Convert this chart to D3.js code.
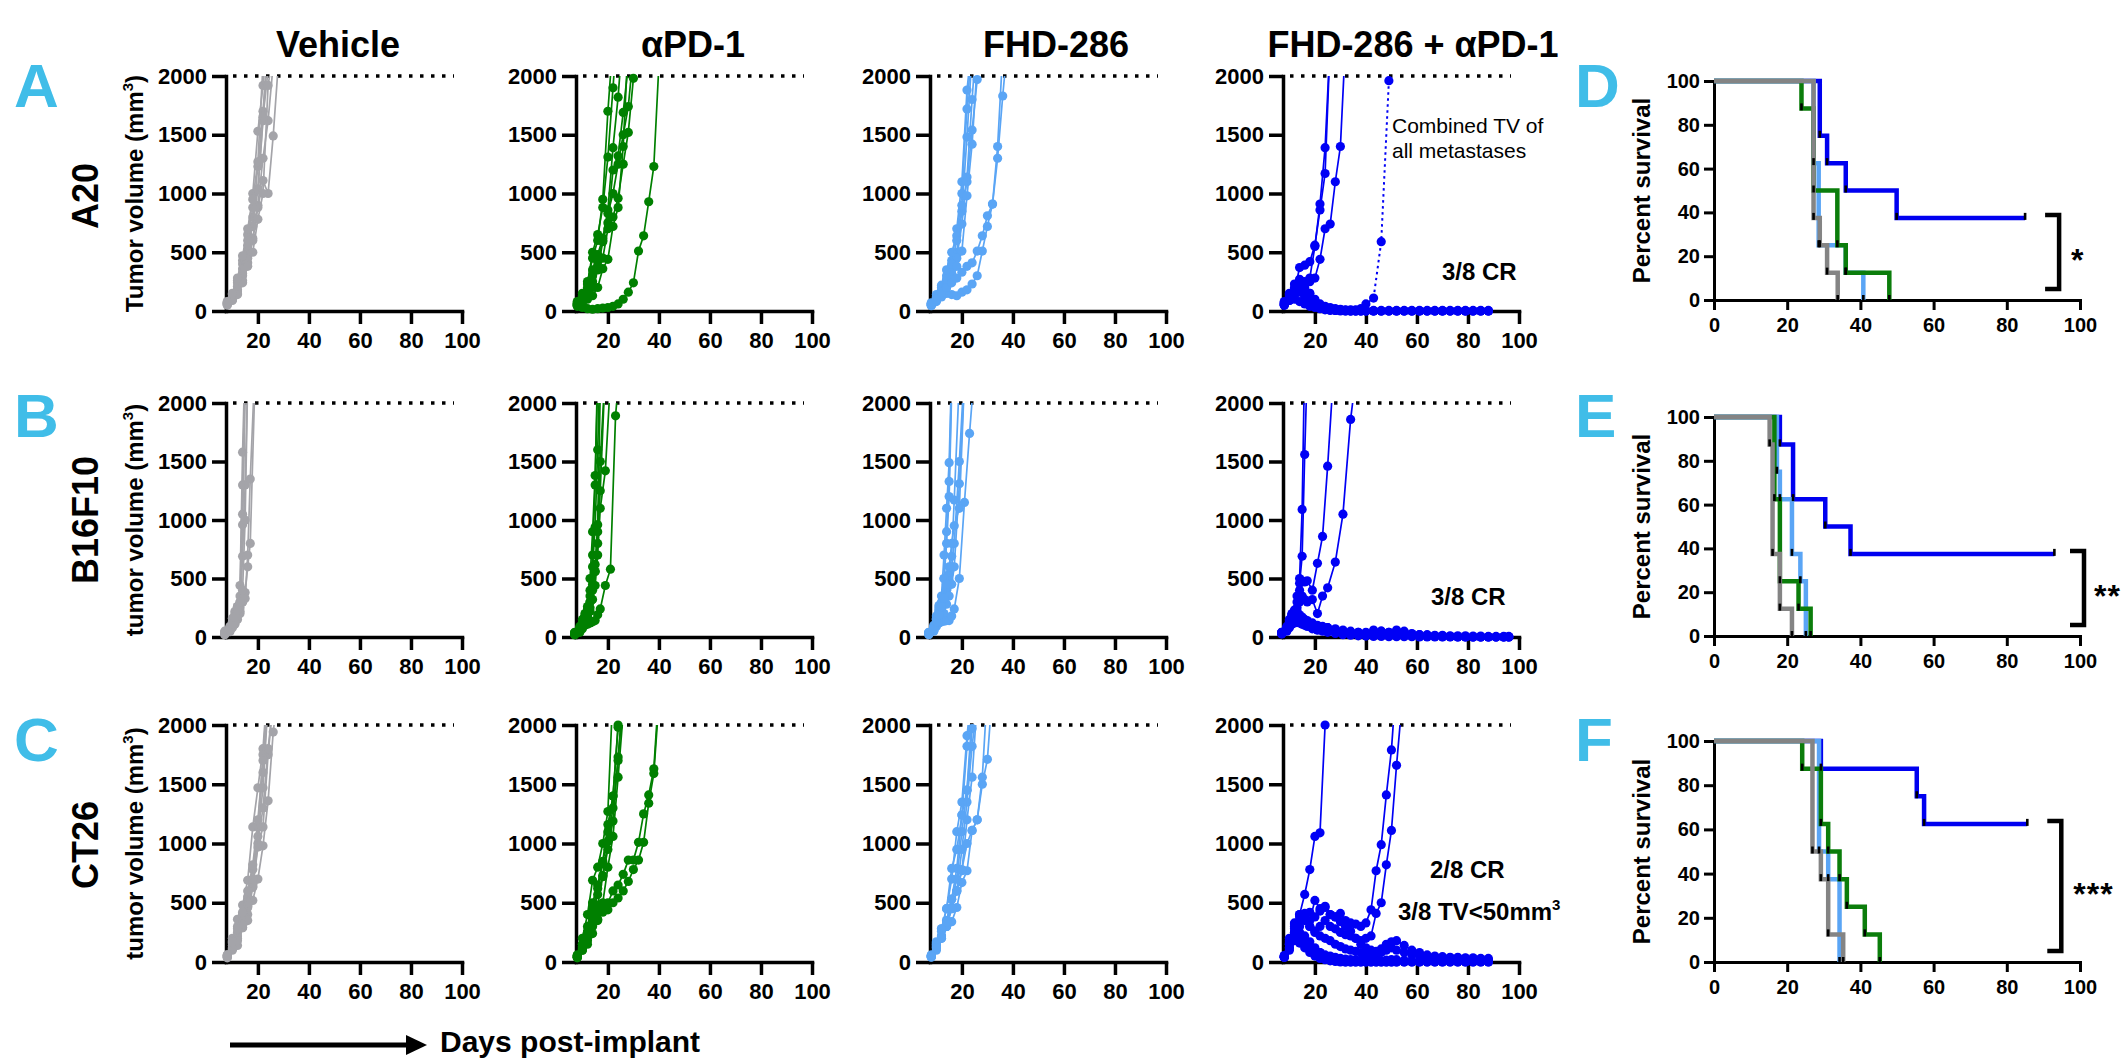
<!DOCTYPE html>
<html>
<head>
<meta charset="utf-8">
<script src="https://cdn.jsdelivr.net/npm/d3@7"></script>
<style>
  body { margin: 0; background: #fff; }
  svg text { font-family: "Liberation Sans", Arial, Helvetica, sans-serif; }
</style>
</head>
<body>
<div id="fig"></div>
<script>
// ---- labels ----
const groupTitles = ['Vehicle', 'αPD-1', 'FHD-286', 'FHD-286 + αPD-1']
const modelNames = ['A20', 'B16F10', 'CT26']
const growthYLabels = ['Tumor volume', 'tumor volume', 'tumor volume']
const growthXTicks = [20, 40, 60, 80, 100]
const growthYTicks = [0, 500, 1000, 1500, 2000]
const survTicks = [0, 20, 40, 60, 80, 100]
const survStars = ['*', '**', '***']

// ---- A20 tumor volumes (mm3), one array per mouse, aligned to daysA ----
const daysA = [8, 10, 12, 14, 16, 18, 20, 22, 24, 26, 28, 30, 32, 34, 36, 38, 40, 43, 46, 49, 52, 55, 58, 61, 64, 67, 70, 73, 76, 79, 82, 85, 88]
const a20Vehicle = [
  [60, 100, 180, 320, 520, 800, 1230, 1700, 2300],
  [70, 120, 240, 430, 650, 1000, 1530, 1920, 2400],
  [50, 90, 150, 260, 410, 600, 900, 1300, 1620, 2100],
  [80, 140, 260, 400, 560, 720, 1030, 1620, 2300],
  [60, 100, 170, 300, 450, 620, 880, 1110, 1000, 1490, 2100],
  [55, 110, 210, 360, 600, 880, 1040, 1650, 2050],
  [65, 95, 140, 240, 380, 500, 780, 1000, 1920, 2200],
  [75, 150, 280, 470, 700, 950, 1270, 2100]
]
const a20Apd1 = [
  [70, 150, 250, 450, 600, 950, 1700, 2300],
  [60, 120, 230, 500, 650, 880, 1310, 1900, 2500],
  [50, 100, 180, 350, 480, 620, 860, 1390, 1820, 2400],
  [80, 130, 200, 300, 420, 600, 750, 1200, 1320, 1690, 2100],
  [60, 90, 150, 250, 380, 450, 700, 800, 960, 1250, 1520, 1980, 2300],
  [40, 60, 140, 200, 350, 590, 830, 1000, 1250, 1500, 1740, 2200],
  [50, 30, 20, 15, 20, 25, 30, 40, 60, 100, 160, 240, 510, 640, 930, 1230, 2100],
  [60, 80, 100, 130, 200, 360, 440, 720, 880, 1400, 2300]
]
const a20Fhd = [
  [60, 110, 200, 300, 430, 700, 1100, 1880, 2300],
  [50, 100, 180, 260, 380, 500, 850, 1480, 2200],
  [70, 140, 220, 350, 500, 640, 1000, 1720, 2300],
  [55, 90, 150, 220, 320, 450, 740, 1140, 1800, 2400],
  [65, 120, 170, 270, 400, 600, 900, 1100, 1540, 1970, 2300],
  [45, 80, 130, 200, 260, 380, 510, 980, 1420, 2100],
  [50, 90, 120, 150, 140, 130, 160, 180, 230, 300, 510, 720, 910, 1400, 2200],
  [60, 100, 160, 200, 240, 280, 330, 380, 410, 510, 640, 810, 910, 1300, 1830, 2300]
]
const a20Combo = [
  [60, 110, 170, 370, 390, 420, 560, 860, 1170, 2300],
  [80, 130, 200, 270, 250, 280, 550, 910, 1390, 2300],
  [50, 90, 150, 220, 180, 250, 280, 440, 700, 740, 1100, 1400, 2300],
  [70, 150, 230, 260, 200, 150, 100, 60, 40, 30, 20, 15, 10, 10, 10, 20, 60, 110],
  [60, 140, 180, 160, 120, 80, 50, 30, 20, 10, 5, 5, 0, 0, 0, 0, 0, 0, 0, 0, 0, 0, 0, 0, 0, 0, 0, 0, 0, 0, 0, 0, 0],
  [50, 100, 150, 200, 240, 150, 90, 50, 30, 20, 10, 5, 5, 0, 0, 0, 0, 0, 0, 0, 0, 0, 0, 0, 0, 0, 0, 0, 0, 0, 0, 0, 0],
  [70, 120, 100, 80, 60, 40, 30, 20, 10, 5, 5, 0, 0, 0, 0, 0, 0, 0, 0, 0, 0, 0, 0, 0, 0, 0, 0, 0, 0, 0, 0, 0, 0],
  [55, 90, 130, 170, 140, 100, 70, 40, 25, 15, 10, 10, 5, 5, 5, 5, 5, 5, 5, 5, 5, 5, 5, 5, 5, 5, 5, 5, 5, 5, 5, 5, 5]
]
// combined TV of all metastases (dotted)
const a20Metastases = [[43, 110], [46, 590], [49, 1960]]

// ---- B16F10 ----
const daysB = [7, 9, 10, 11, 12, 13, 14, 15, 16, 17, 19, 21, 23, 25, 28, 31, 34, 37, 40, 43, 46, 49, 52, 55, 58, 61, 64, 67, 70, 73, 76, 79, 82, 85, 88, 91, 94, 96]
const b16Vehicle = [
  [30, 60, 100, 160, 250, 440, 1580, 2400],
  [40, 80, 130, 200, 260, 350, 1300, 2300],
  [20, 50, 90, 130, 200, 300, 1050, 2200],
  [35, 70, 120, 180, 220, 250, 960, 2100],
  [25, 45, 80, 110, 150, 200, 690, 1300, 2200],
  [30, 55, 100, 140, 180, 220, 300, 380, 600, 800, 2300],
  [50, 90, 160, 220, 260, 280, 300, 330, 700, 1350, 2400],
  [30, 60, 110, 170, 230, 300, 400, 1000, 2200]
]
const b16Apd1 = [
  [30, 90, 150, 200, 260, 500, 900, 1380, 2300],
  [40, 70, 120, 180, 240, 400, 700, 1300, 2200],
  [25, 60, 100, 150, 200, 350, 600, 940, 1600, 2400],
  [35, 80, 110, 160, 180, 300, 450, 620, 960, 2100],
  [20, 50, 90, 130, 150, 250, 400, 560, 900, 1500, 2300],
  [30, 60, 100, 140, 170, 220, 320, 440, 700, 1100, 1420, 2200],
  [20, 40, 70, 100, 110, 120, 130, 140, 190, 240, 440, 580, 1890, 2400],
  [30, 70, 120, 170, 220, 300, 420, 560, 800, 1250, 2300]
]
const b16Fhd = [
  [30, 80, 180, 270, 350, 700, 1100, 1490, 2300],
  [40, 100, 160, 250, 270, 500, 900, 1330, 2200],
  [25, 60, 120, 200, 230, 300, 420, 540, 690, 1170, 2200],
  [35, 70, 150, 220, 250, 300, 400, 480, 600, 800, 1500, 2300],
  [20, 50, 90, 130, 160, 200, 280, 350, 450, 600, 1310, 2200],
  [30, 60, 100, 120, 130, 135, 140, 140, 180, 240, 500, 1150, 1740, 2300],
  [35, 90, 150, 230, 300, 500, 800, 1200, 2100],
  [28, 75, 130, 190, 260, 330, 450, 600, 800, 950, 1100, 2200]
]
const b16Combo = [
  [40, 90, 150, 200, 230, 350, 500, 1090, 2400],
  [30, 80, 130, 190, 220, 300, 460, 690, 1560, 2300],
  [35, 70, 140, 190, 200, 250, 400, 480, 470, 480, 400, 630, 860, 1460, 2500],
  [30, 60, 110, 150, 180, 220, 300, 350, 320, 300, 320, 200, 350, 420, 640, 1050, 1860, 2400],
  [40, 80, 120, 160, 180, 200, 190, 170, 150, 140, 120, 100, 90, 80, 70, 60, 50, 40, 40, 35, 30, 25, 20, 15, 10, 8, 5, 5, 3, 2, 0, 0, 0, 0, 0, 0, 0, 0],
  [30, 60, 90, 120, 150, 140, 130, 120, 110, 100, 80, 70, 60, 50, 40, 30, 25, 20, 30, 40, 50, 40, 60, 50, 30, 20, 15, 10, 8, 5, 3, 2, 0, 0, 0, 0, 0, 0],
  [35, 70, 100, 130, 140, 150, 160, 150, 130, 110, 90, 60, 50, 40, 30, 20, 15, 10, 8, 5, 5, 3, 3, 2, 2, 0, 0, 0, 0, 0, 0, 0, 0, 0, 0, 0, 0, 0],
  [25, 50, 80, 110, 120, 130, 120, 110, 100, 90, 70, 60, 70, 80, 60, 50, 40, 40, 30, 60, 50, 40, 30, 30, 25, 20, 20, 15, 15, 10, 10, 10, 8, 8, 5, 5, 5, 5]
]

// ---- CT26 ----
const daysC = [8, 10, 12, 14, 16, 18, 20, 22, 24, 26, 28, 30, 32, 34, 36, 38, 40, 42, 44, 46, 48, 50, 52, 55, 58, 61, 64, 67, 70, 73, 76, 79, 82, 85, 88]
const ct26Vehicle = [
  [50, 160, 360, 480, 690, 1140, 1470, 1800, 2400],
  [60, 200, 250, 400, 550, 780, 1140, 1750, 2300],
  [40, 140, 220, 350, 470, 680, 1060, 1470, 2200],
  [55, 120, 200, 290, 400, 630, 970, 1140, 1750, 2200],
  [45, 100, 140, 290, 350, 520, 700, 980, 1360, 1940, 2300],
  [50, 180, 300, 400, 460, 640, 1000, 1300, 1800, 2200],
  [35, 110, 180, 310, 500, 700, 1150, 1600, 2200],
  [60, 170, 280, 420, 600, 820, 1200, 1700, 2300]
]
const ct26Apd1 = [
  [50, 200, 400, 690, 800, 1000, 1270, 2300],
  [60, 150, 300, 500, 650, 850, 1160, 1400, 1980, 2300],
  [40, 120, 240, 400, 570, 730, 950, 1190, 1730, 2200],
  [55, 100, 200, 350, 420, 500, 800, 1060, 1560, 2100],
  [45, 150, 240, 330, 360, 440, 500, 600, 650, 740, 860, 860, 1010, 1250, 1410, 1630, 2300],
  [35, 100, 150, 240, 350, 420, 440, 500, 540, 600, 680, 780, 860, 1010, 1340, 1590, 2200],
  [50, 130, 250, 450, 620, 830, 1100, 1400, 2000, 2400],
  [40, 110, 180, 300, 480, 720, 1020, 1300, 1700, 2300]
]
const ct26Fhd = [
  [50, 120, 220, 350, 530, 790, 1240, 1450, 1970, 2400],
  [45, 150, 280, 450, 700, 1100, 1350, 1910, 2300],
  [55, 140, 220, 300, 450, 600, 950, 1350, 1820, 2200],
  [40, 100, 200, 300, 340, 460, 670, 770, 1110, 1200, 1500, 1710, 2300],
  [50, 130, 220, 350, 530, 700, 1100, 1450, 2100],
  [45, 170, 260, 300, 460, 600, 770, 1200, 1560, 2200],
  [60, 160, 280, 450, 790, 950, 1240, 1820, 2300],
  [50, 120, 200, 340, 450, 600, 780, 1000, 1110, 1200, 1560, 2300]
]
const ct26Combo = [
  [40, 150, 300, 400, 570, 780, 1060, 1090, 2000],
  [50, 180, 330, 400, 380, 350, 520, 450, 470, 400, 380, 410, 350, 330, 320, 300, 330, 440, 770, 990, 1410, 1790, 2400],
  [45, 160, 280, 350, 410, 300, 260, 300, 350, 300, 280, 250, 230, 220, 200, 180, 200, 220, 410, 500, 820, 1110, 1660, 2400],
  [55, 200, 320, 380, 400, 420, 380, 430, 460, 400, 380, 340, 300, 260, 200, 150, 120, 100, 90, 110, 150, 170, 180, 140, 100, 80, 60, 50, 45, 40, 40, 35, 35, 30, 30],
  [40, 120, 250, 300, 350, 300, 250, 220, 200, 180, 150, 130, 110, 100, 90, 80, 70, 60, 60, 80, 100, 120, 100, 80, 60, 50, 45, 40, 40, 35, 30, 30, 25, 25, 20],
  [50, 150, 250, 200, 150, 120, 100, 80, 60, 50, 40, 30, 25, 20, 20, 15, 15, 10, 10, 10, 15, 20, 20, 15, 10, 10, 8, 8, 5, 5, 5, 5, 5, 5, 5],
  [45, 100, 180, 160, 120, 80, 50, 30, 20, 10, 5, 0, 0, 0, 0, 0, 0, 0, 0, 0, 0, 0, 0, 0, 0, 0, 0, 0, 0, 0, 0, 0, 0, 0, 0],
  [40, 120, 200, 250, 220, 170, 120, 80, 40, 20, 10, 5, 0, 0, 0, 0, 0, 0, 0, 0, 0, 0, 0, 0, 0, 0, 0, 0, 0, 0, 0, 0, 0, 0, 0]
]

// ---- survival (day, percent) ----
const survA20Vehicle = [[0, 100], [27.2, 37.5], [28.9, 25], [30.9, 12.5], [33.8, 0]]
const survA20Apd1 = [[0, 100], [23.9, 87.5], [27.2, 50], [33.7, 25], [36, 12.5], [47.9, 0]]
const survA20Fhd = [[0, 100], [27.2, 62.5], [28.6, 25], [36, 12.5], [40.8, 0]]
const survA20Combo = [[0, 100], [28.9, 75], [30.9, 62.5], [36, 50], [49.9, 37.5], [85, 37.5]]

const survB16Vehicle = [[0, 100], [15.2, 87.5], [16, 37.5], [18, 12.5], [21.3, 0]]
const survB16Apd1 = [[0, 100], [16.5, 62.5], [18, 25], [23.1, 12.5], [26.4, 0]]
const survB16Fhd = [[0, 100], [17.2, 75], [18, 62.5], [21.3, 37.5], [23.6, 25], [25.1, 0]]
const survB16Combo = [[0, 100], [18, 87.5], [21.6, 62.5], [30.4, 50], [37.3, 37.5], [93, 37.5]]

const survCt26Vehicle = [[0, 100], [26.9, 50], [29.2, 37.5], [31.2, 12.5], [35.3, 0]]
const survCt26Apd1 = [[0, 100], [24.1, 87.5], [29.2, 62.5], [31.2, 50], [34.3, 37.5], [36.3, 25], [41.2, 12.5], [45.3, 0]]
const survCt26Fhd = [[0, 100], [28.7, 50], [31.2, 37.5], [34.3, 0]]
const survCt26Combo = [[0, 100], [29.2, 87.5], [55.4, 75], [57.4, 62.5], [85.6, 62.5]]

// ---- layout ----
const W = 2123, H = 1058
const FONT = '"Liberation Sans", Arial, Helvetica, sans-serif'
const colLeft = [226, 576, 930, 1283]
const panelWidth = 236
const rowTop = [76, 403, 725]
const rowBottom = [311, 637, 962]
const titleX = [338, 693, 1056, 1413]
const survLeft = 1714, survRight = 2080
const survTop = [81, 417, 741]
const survBottom = [300, 636, 962]
const growthColors = ['#a4a4a9', '#008000', '#5aa5f5', '#0000f5']
const survColors = { vehicle: '#848484', apd1: '#0b7d0b', fhd: '#5aa5f5', combo: '#0000f0' }
const letterColor = '#40bde8'

const svg = d3.select('#fig').append('svg')
  .attr('width', W).attr('height', H)
  .style('background', '#fff')

const AppendG = (parent, className = '') => parent.append('g').attr('class', className)

function styleAxis(g, size, width) {
  g.attr('font-family', FONT).attr('font-size', size).attr('font-weight', 'bold')
  g.selectAll('path, line').attr('stroke', '#000').attr('stroke-width', width)
  g.select('path.domain').attr('stroke-linecap', 'square')
  g.selectAll('text').attr('fill', '#000')
}

function drawGrowth(row, col, days, mice, color) {
  const left = colLeft[col], top = rowTop[row], bottom = rowBottom[row]
  const x = d3.scaleLinear().domain([7.5, 100]).range([left, left + panelWidth])
  const y = d3.scaleLinear().domain([0, 2000]).range([bottom, top])
  const g = AppendG(svg, 'growth')

  const xg = g.append('g').attr('transform', `translate(0,${bottom})`)
    .call(d3.axisBottom(x).tickValues(growthXTicks).tickFormat(d3.format('d'))
      .tickSize(13).tickSizeOuter(0).tickPadding(8))
  styleAxis(xg, 22, 3.5)
  const yg = g.append('g').attr('transform', `translate(${left},0)`)
    .call(d3.axisLeft(y).tickValues(growthYTicks).tickFormat(d3.format('d'))
      .tickSize(14).tickSizeOuter(0).tickPadding(5))
  styleAxis(yg, 22, 3.5)

  // 2000 mm3 endpoint
  g.append('line')
    .attr('x1', left + 7).attr('x2', left + 228)
    .attr('y1', y(2000)).attr('y2', y(2000))
    .attr('stroke', '#000').attr('stroke-width', 3.5)
    .attr('stroke-dasharray', '3.5 7.5')

  const clipId = `clip-${row}-${col}`
  svg.append('clipPath').attr('id', clipId).append('rect')
    .attr('x', left - 20).attr('y', y(2000))
    .attr('width', panelWidth + 40).attr('height', bottom - y(2000) + 30)

  const line = d3.line().x(d => x(d[0])).y(d => y(d[1]))
  mice.forEach(vols => {
    const pts = vols.map((v, i) => [days[i], v])
    g.append('path').datum(pts)
      .attr('d', line).attr('fill', 'none')
      .attr('stroke', color).attr('stroke-width', 1.7)
      .attr('clip-path', `url(#${clipId})`)
    g.append('g').selectAll('circle')
      .data(pts.filter(p => p[1] <= 2000))
      .join('circle')
      .attr('cx', d => x(d[0])).attr('cy', d => y(d[1]))
      .attr('r', 4.6).attr('fill', color)
  })
  return { g, x, y }
}

function drawSurvival(row, curves, star) {
  const top = survTop[row], bottom = survBottom[row]
  const x = d3.scaleLinear().domain([0, 100]).range([survLeft, survRight])
  const y = d3.scaleLinear().domain([0, 100]).range([bottom, top])
  const g = AppendG(svg, 'survival')

  const xg = g.append('g').attr('transform', `translate(0,${bottom})`)
    .call(d3.axisBottom(x).tickValues(survTicks).tickSize(10).tickSizeOuter(0).tickPadding(8))
  styleAxis(xg, 20, 3)
  const yg = g.append('g').attr('transform', `translate(${survLeft},0)`)
    .call(d3.axisLeft(y).tickValues(survTicks).tickSize(10).tickSizeOuter(0).tickPadding(4))
  styleAxis(yg, 20, 3)

  const step = d3.line().x(d => x(d[0])).y(d => y(d[1])).curve(d3.curveStepAfter)
  curves.forEach(c => {
    g.append('path').datum(c.data)
      .attr('d', step).attr('fill', 'none')
      .attr('stroke', c.color).attr('stroke-width', 4.5)
  })
  // event ticks
  curves.forEach(c => {
    g.append('g').selectAll('rect')
      .data(c.data.slice(1))
      .join('rect')
      .attr('x', d => x(d[0]) - 1.3).attr('y', d => y(d[1]) - 5)
      .attr('width', 2.6).attr('height', 7)
      .attr('fill', '#000')
  })

  // significance bracket, placed just right of the combo curve's end
  const combo = curves[0].data
  const last = combo[combo.length - 1]
  const bx = Math.min(x(last[0]) + 34, 2084)
  const by1 = y(last[1]) - 3, by2 = y(5)
  g.append('path')
    .attr('d', `M${bx - 14},${by1}H${bx}V${by2}H${bx - 14}`)
    .attr('fill', 'none').attr('stroke', '#000').attr('stroke-width', 4.5)
  // keep the stars inside the page
  const starX = Math.min(bx + 12, W - 3 - star.length * 13)
  g.append('text')
    .attr('x', starX).attr('y', (by1 + by2) / 2 + 19)
    .attr('font-size', 32).attr('font-weight', 'bold')
    .attr('letter-spacing', star.length > 1 ? 1 : 0)
    .text(star)

  g.append('text')
    .attr('transform', `translate(1650,${(top + bottom) / 2}) rotate(-90)`)
    .attr('text-anchor', 'middle')
    .attr('font-size', 24).attr('font-weight', 'bold')
    .text('Percent survival')
}

// ---- titles ----
groupTitles.forEach((t, i) => {
  svg.append('text')
    .attr('x', titleX[i]).attr('y', 57)
    .attr('text-anchor', 'middle')
    .attr('font-size', 36).attr('font-weight', 'bold')
    .text(t)
})

// ---- row labels ----
const panelLetters = [['A', 'D'], ['B', 'E'], ['C', 'F']]
const letterY = [107, 437, 761]
const rowCenter = [196, 520, 845]
modelNames.forEach((name, r) => {
  svg.append('text').attr('x', 14).attr('y', letterY[r])
    .attr('font-size', 62).attr('font-weight', 'bold').attr('fill', letterColor)
    .text(panelLetters[r][0])
  svg.append('text').attr('x', 1575).attr('y', letterY[r])
    .attr('font-size', 62).attr('font-weight', 'bold').attr('fill', letterColor)
    .text(panelLetters[r][1])
  svg.append('text')
    .attr('transform', `translate(98,${rowCenter[r]}) rotate(-90)`)
    .attr('text-anchor', 'middle')
    .attr('font-size', 36).attr('font-weight', 'bold')
    .text(name)
  const yl = svg.append('text')
    .attr('transform', `translate(143,${(rowTop[r] + rowBottom[r]) / 2}) rotate(-90)`)
    .attr('text-anchor', 'middle')
    .attr('font-size', 24).attr('font-weight', 'bold')
  yl.append('tspan').text(growthYLabels[r] + ' (mm')
  yl.append('tspan').attr('font-size', 15).attr('dy', -10).text('3')
  yl.append('tspan').attr('dy', 10).text(')')
})

// ---- growth panels ----
const growthData = [
  [daysA, [a20Vehicle, a20Apd1, a20Fhd, a20Combo]],
  [daysB, [b16Vehicle, b16Apd1, b16Fhd, b16Combo]],
  [daysC, [ct26Vehicle, ct26Apd1, ct26Fhd, ct26Combo]]
]
const comboPanels = []
growthData.forEach(([days, groups], r) => {
  groups.forEach((mice, c) => {
    const p = drawGrowth(r, c, days, mice, growthColors[c])
    if (c === 3) comboPanels.push(p)
  })
})

// metastases trace (A20 combo)
{
  const { g, x, y } = comboPanels[0]
  g.append('path').datum(a20Metastases)
    .attr('d', d3.line().x(d => x(d[0])).y(d => y(d[1])))
    .attr('fill', 'none').attr('stroke', growthColors[3])
    .attr('stroke-width', 2).attr('stroke-dasharray', '2.5 3.5')
  g.append('g').selectAll('circle').data(a20Metastases.slice(1)).join('circle')
    .attr('cx', d => x(d[0])).attr('cy', d => y(d[1]))
    .attr('r', 4.6).attr('fill', growthColors[3])
}

// annotations
const note = (x, y, txt, size, weight) => svg.append('text')
  .attr('x', x).attr('y', y).attr('font-size', size).attr('font-weight', weight).text(txt)
note(1392, 133, 'Combined TV of', 21, 'normal')
note(1392, 158, 'all metastases', 21, 'normal')
note(1442, 280, '3/8 CR', 24, 'bold')
note(1431, 605, '3/8 CR', 24, 'bold')
note(1430, 878, '2/8 CR', 24, 'bold')
const tv = note(1398, 920, '3/8 TV<50mm', 24, 'bold')
tv.append('tspan').attr('font-size', 15).attr('dy', -10).text('3')

// ---- survival panels ----
drawSurvival(0, [
  { data: survA20Combo, color: survColors.combo },
  { data: survA20Fhd, color: survColors.fhd },
  { data: survA20Apd1, color: survColors.apd1 },
  { data: survA20Vehicle, color: survColors.vehicle }
], survStars[0])
drawSurvival(1, [
  { data: survB16Combo, color: survColors.combo },
  { data: survB16Fhd, color: survColors.fhd },
  { data: survB16Apd1, color: survColors.apd1 },
  { data: survB16Vehicle, color: survColors.vehicle }
], survStars[1])
drawSurvival(2, [
  { data: survCt26Combo, color: survColors.combo },
  { data: survCt26Fhd, color: survColors.fhd },
  { data: survCt26Apd1, color: survColors.apd1 },
  { data: survCt26Vehicle, color: survColors.vehicle }
], survStars[2])

// ---- shared x label ----
svg.append('line')
  .attr('x1', 230).attr('x2', 410).attr('y1', 1045).attr('y2', 1045)
  .attr('stroke', '#000').attr('stroke-width', 5)
svg.append('path')
  .attr('d', 'M406,1035L427,1045L406,1055Z').attr('fill', '#000')
svg.append('text')
  .attr('x', 440).attr('y', 1052)
  .attr('font-size', 30).attr('font-weight', 'bold')
  .text('Days post-implant')
</script>
</body>
</html>
